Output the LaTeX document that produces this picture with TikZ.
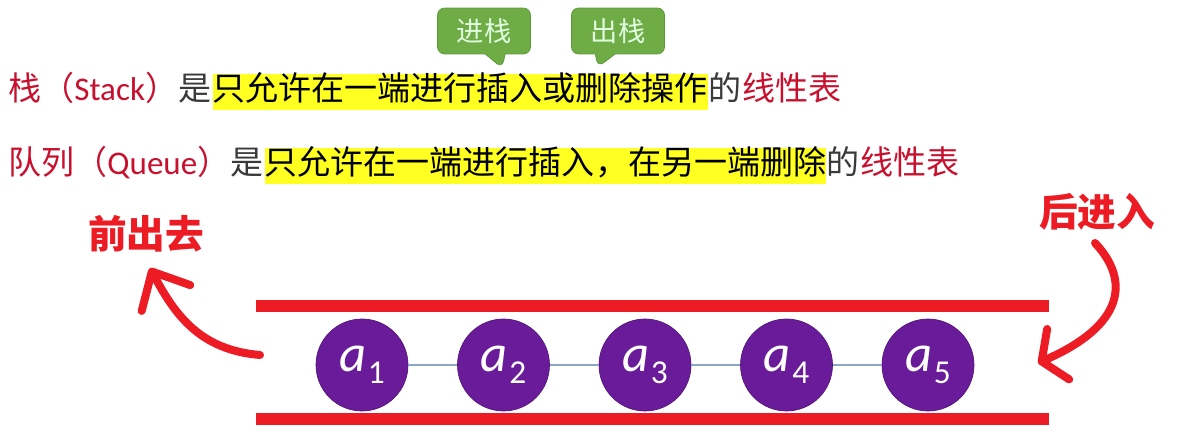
\documentclass[tikz,border=0pt]{standalone}
\usepackage{fontspec}
\newfontfamily\cjk{Noto Sans CJK SC}
\newfontfamily\carlito{Carlito}
\usetikzlibrary{positioning,shapes.callouts,arrows.meta}
\definecolor{defred}{HTML}{C8102E}
\definecolor{textgray}{HTML}{3A3A3A}
\definecolor{markyellow}{HTML}{FFFF22}
\definecolor{tipgreen}{HTML}{6FAC46}
\definecolor{tipborder}{HTML}{5B9A3C}
\definecolor{penred}{HTML}{ED1C24}
\definecolor{elempurple}{HTML}{6A1B9A}
\definecolor{linkblue}{HTML}{8AA6C4}
\tikzset{
  seg/.style={inner xsep=0pt, inner ysep=0pt, text height=15pt, text depth=5pt,
    font=\cjk\fontsize{18.8pt}{22pt}\selectfont},
  defn/.style={seg, text=defred},
  normaltext/.style={seg, text=textgray},
  marked/.style={seg, text=black, fill=markyellow},
  bubble/.style={rectangle callout, fill=tipgreen, draw=tipborder, rounded corners=4pt,
    minimum width=1.86cm, minimum height=0.92cm, callout pointer width=0.4cm,
    text=white!88!green, font=\cjk\fontsize{15.5pt}{17pt}\selectfont},
  shout/.style={text=penred, font=\cjk\bfseries\fontsize{22pt}{24pt}\selectfont},
  pipe/.style={penred, line width=0.24cm},
  elem/.style={circle, fill=elempurple, draw=elempurple!80!black, minimum size=1.84cm,
    inner sep=0pt, text=white, font=\carlito\fontsize{30pt}{30pt}\selectfont},
  elemlink/.style={linkblue, line width=1.2pt},
  scrawl/.style={penred, line width=0.16cm, line cap=round,
    -{Straight Barb[round, length=#1, width=1.1cm]}},
  scrawl/.default=0.5cm
}
\newcommand{\elemlabel}[1]{\itshape a\kern1pt\raisebox{-0.22em}{\fontsize{19pt}{19pt}\selectfont\upshape #1}}

\begin{document}
\begin{tikzpicture}[x=0.02cm, y=-0.02cm]
  \useasboundingbox (0,0) rectangle (1200,446);

  % stack definition
  \node[defn, anchor=west] (st1) at (8,92) {栈（{\carlito Stack}）};
  \node[normaltext, right=0pt of st1] (st2) {是};
  \node[marked, right=0pt of st2] (st3) {只允许在一端进行插入或删除操作};
  \node[normaltext, right=0pt of st3] (st4) {的};
  \node[defn, right=0pt of st4] (st5) {线性表};

  % queue definition
  \node[defn, anchor=west] (qu1) at (8,166) {队列（{\carlito Queue}）};
  \node[normaltext, right=0pt of qu1] (qu2) {是};
  \node[marked, right=0pt of qu2] (qu3) {只允许在一端进行插入，在另一端删除};
  \node[normaltext, right=0pt of qu3] (qu4) {的};
  \node[defn, right=0pt of qu4] (qu5) {线性表};

  % callouts
  \coordinate (pushtip) at (502,68);
  \coordinate (poptip) at (598,67);
  \node[bubble, callout absolute pointer={(pushtip)}] (push) at (484,31) {进栈};
  \node[bubble, callout absolute pointer={(poptip)}] (pop) at (618,31) {出栈};

  % queue pipe
  \draw[pipe] (256,306) -- (1049,306);
  \draw[pipe] (256,419) -- (1049,419);

  % elements
  \foreach \i [evaluate=\i as \x using 362+141.5*(\i-1)] in {1,...,5}
    \node[elem] (e\i) at (\x,365) {\elemlabel{\i}};
  \foreach \i/\j in {1/2,2/3,3/4,4/5}
    \draw[elemlink] (e\i) -- (e\j);

  % hand-drawn arrows
  \node[shout] (outlabel) at (146,234) {前出去};
  \node[shout] (inlabel) at (1097,212) {后进入};
  \coordinate (outstart) at (260,355);
  \coordinate (outend) at (150,268);
  \draw[scrawl=0.6cm] (outstart) .. controls (200,350) and (175,315) .. (outend);
  \coordinate (instart) at (1095,243);
  \coordinate (inend) at (1038,363);
  \draw[scrawl=0.36cm] (instart) .. controls (1130,280) and (1125,325) .. (inend);
\end{tikzpicture}
\end{document}
